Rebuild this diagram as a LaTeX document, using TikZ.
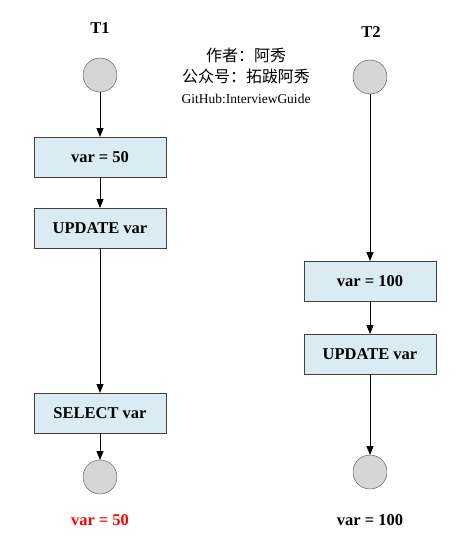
\documentclass[tikz,border=0pt]{standalone}
\usepackage{fontspec}
\setmainfont{Liberation Serif}
\newfontfamily\cjk{Noto Sans CJK SC}
\usetikzlibrary{arrows.meta, positioning}

\definecolor{opblue}{HTML}{DAEBF3}
\definecolor{stategray}{HTML}{D6D6D6}

\begin{document}
\begin{tikzpicture}[
        every node/.style={outer sep=0pt, font=\fontsize{16.5}{19}\selectfont\bfseries},
        op/.style={rectangle, draw=black!75, fill=opblue, minimum width=132pt, minimum height=40pt},
        state/.style={circle, draw=black!70, fill=stategray, minimum size=34pt, inner sep=0pt},
        arrow/.style={-{Triangle[length=9pt, width=7pt]}, line width=0.8pt}
    ]

    \useasboundingbox (0,0) rectangle (471pt,-539pt);

    % T1
    \node (T1) at (100pt,-28pt) {T1};
    \node (s1) [state] at (100pt,-75pt) {};
    \node (a1) [op, below=45pt of s1] {var = 50};
    \node (a2) [op, below=31pt of a1] {UPDATE var};
    \node (a3) [op, below=145pt of a2] {SELECT var};
    \node (e1) [state, below=27pt of a3] {};
    \node (r1) [text=red] at (100pt,-520pt) {var = 50};

    % T2
    \node (T2) at (371pt,-32pt) {T2};
    \node (s2) [state] at (370pt,-77pt) {};
    \node (b1) [op, below=167pt of s2] {var = 100};
    \node (b2) [op, below=33pt of b1] {UPDATE var};
    \node (e2) [state, below=81pt of b2] {};
    \node (r2) at (370pt,-520pt) {var = 100};

    \node (info) [align=center, font=\fontsize{13.5}{21}\selectfont] at (246pt,-76pt)
        {{\cjk\fontsize{16}{21}\selectfont 作者：阿秀}\\{\cjk\fontsize{16}{21}\selectfont 公众号：拓跋阿秀}\\GitHub:InterviewGuide};

    \draw[arrow] (s1) -- (a1);
    \draw[arrow] (a1) -- (a2);
    \draw[arrow] (a2) -- (a3);
    \draw[arrow] (a3) -- (e1);

    \draw[arrow] (s2) -- (b1);
    \draw[arrow] (b1) -- (b2);
    \draw[arrow] (b2) -- (e2);
\end{tikzpicture}
\end{document}
